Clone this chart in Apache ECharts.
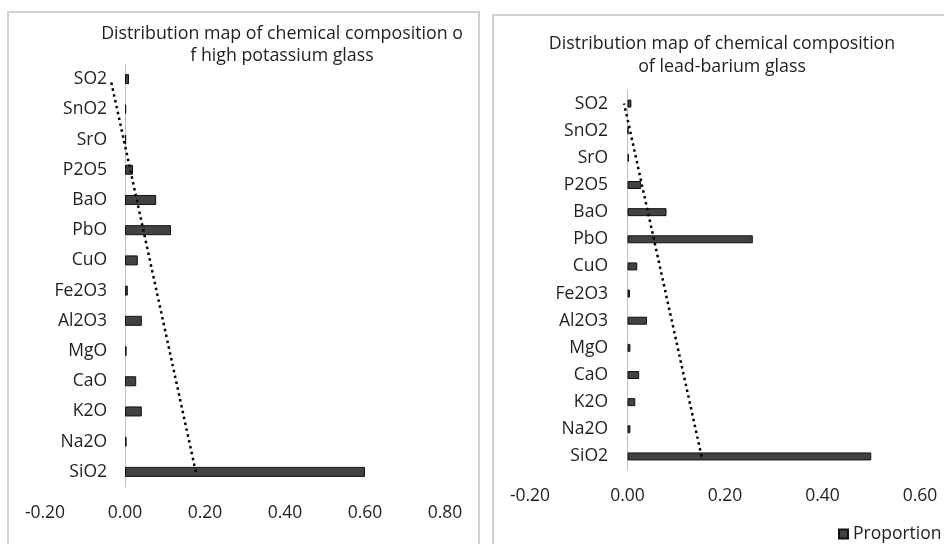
<!DOCTYPE html>
<html>

<head>
  <meta charset="utf-8">
  <title>Distribution map of chemical composition</title>
  <script src="https://cdn.jsdelivr.net/npm/echarts@6/dist/echarts.min.js"></script>
</head>

<body style="margin:0; background:#fff;">
  <div id="main" style="width:944px; height:544px;"></div>
  <script type="text/javascript">
    // categories, bottom to top (Excel order)
    var categories = ['SiO2', 'Na2O', 'K2O', 'CaO', 'MgO', 'Al2O3', 'Fe2O3', 'CuO', 'PbO', 'BaO', 'P2O5', 'SrO', 'SnO2', 'SO2'];
    var potassiumValues = [0.600, 0.004, 0.042, 0.028, 0.004, 0.042, 0.007, 0.032, 0.115, 0.078, 0.020, 0.003, 0.003, 0.010];
    var leadBariumValues = [0.500, 0.006, 0.016, 0.024, 0.006, 0.040, 0.005, 0.020, 0.257, 0.080, 0.028, 0.003, 0.002, 0.008];
    // linear trendline ends (at SiO2, at SO2)
    var potassiumTrend = [0.177, -0.036];
    var leadBariumTrend = [0.152, -0.007];
    // x axis tick labels
    var potassiumTicks = [-0.2, 0, 0.2, 0.4, 0.6, 0.8];
    var leadBariumTicks = [-0.2, 0, 0.2, 0.4, 0.6];

    var font = '"Open Sans", "Noto Sans", sans-serif';
    var textColor = '#1f1f1f';
    var last = categories.length - 1;

    function valueAxis(idx, ticks) {
      return {
        type: 'value',
        gridIndex: idx,
        min: ticks[0],
        max: ticks[ticks.length - 1],
        interval: 0.2,
        axisLine: { show: false },
        axisTick: { show: false },
        splitLine: { show: false },
        axisLabel: {
          fontFamily: font, fontSize: 17.5, color: textColor, margin: 17,
          formatter: function (v) { return v.toFixed(2); }
        }
      };
    }

    // labels sit next to the zero line, not the grid edge
    function catAxis(idx, labelMargin) {
      return {
        type: 'category',
        gridIndex: idx,
        data: categories,
        axisLine: { show: true, onZero: true, lineStyle: { color: '#bfbfbf', width: 1 } },
        axisTick: { show: false },
        splitLine: { show: false },
        axisLabel: { fontFamily: font, fontSize: 17.5, color: textColor, margin: labelMargin }
      };
    }

    function barSeries(idx, values, width) {
      return {
        name: 'Proportion',
        type: 'bar',
        xAxisIndex: idx,
        yAxisIndex: idx,
        barWidth: width,
        data: values,
        itemStyle: { color: '#424242', borderColor: '#111', borderWidth: 1 },
        z: 2
      };
    }

    function trendSeries(idx, ends) {
      return {
        name: 'Trend',
        type: 'line',
        xAxisIndex: idx,
        yAxisIndex: idx,
        symbol: 'none',
        data: [[ends[0], 0], [ends[1], last]],
        lineStyle: { color: '#000', width: 2.5, type: [2.5, 3.5] },
        silent: true,
        z: 3
      };
    }

    var myChart = echarts.init(document.getElementById('main'));

    myChart.setOption({
      backgroundColor: '#fff',
      animation: false,
      title: [{
        text: 'Distribution map of chemical composition o\nf high potassium glass',
        left: 282, top: 23, textAlign: 'center', padding: 0,
        textStyle: { fontFamily: font, fontSize: 17.8, fontWeight: 'normal', color: textColor, lineHeight: 22 }
      }, {
        text: 'Distribution map of chemical composition\nof lead-barium glass',
        left: 722, top: 32, textAlign: 'center', padding: 0,
        textStyle: { fontFamily: font, fontSize: 17.8, fontWeight: 'normal', color: textColor, lineHeight: 23 }
      }],
      legend: {
        data: ['Proportion'],
        left: 838, top: 525, padding: 0,
        icon: 'rect', itemWidth: 9, itemHeight: 9, itemGap: 4,
        textStyle: { fontFamily: font, fontSize: 17.5, color: textColor }
      },
      grid: [
        { left: 45, top: 64, width: 400, height: 423, containLabel: false, outerBoundsMode: 'none' },
        { left: 530, top: 90, width: 390, height: 380, containLabel: false, outerBoundsMode: 'none' }
      ],
      xAxis: [valueAxis(0, potassiumTicks), valueAxis(1, leadBariumTicks)],
      yAxis: [catAxis(0, -62), catAxis(1, -78)],
      series: [
        barSeries(0, potassiumValues, 10),
        trendSeries(0, potassiumTrend),
        barSeries(1, leadBariumValues, 8),
        trendSeries(1, leadBariumTrend)
      ],
      graphic: [
        { type: 'rect', shape: { x: 8, y: 12, width: 471, height: 600 }, style: { fill: 'none', stroke: '#d2d2d2', lineWidth: 2 }, silent: true },
        { type: 'rect', shape: { x: 493, y: 15, width: 500, height: 600 }, style: { fill: 'none', stroke: '#d2d2d2', lineWidth: 2 }, silent: true }
      ]
    });
  </script>
</body>

</html>
